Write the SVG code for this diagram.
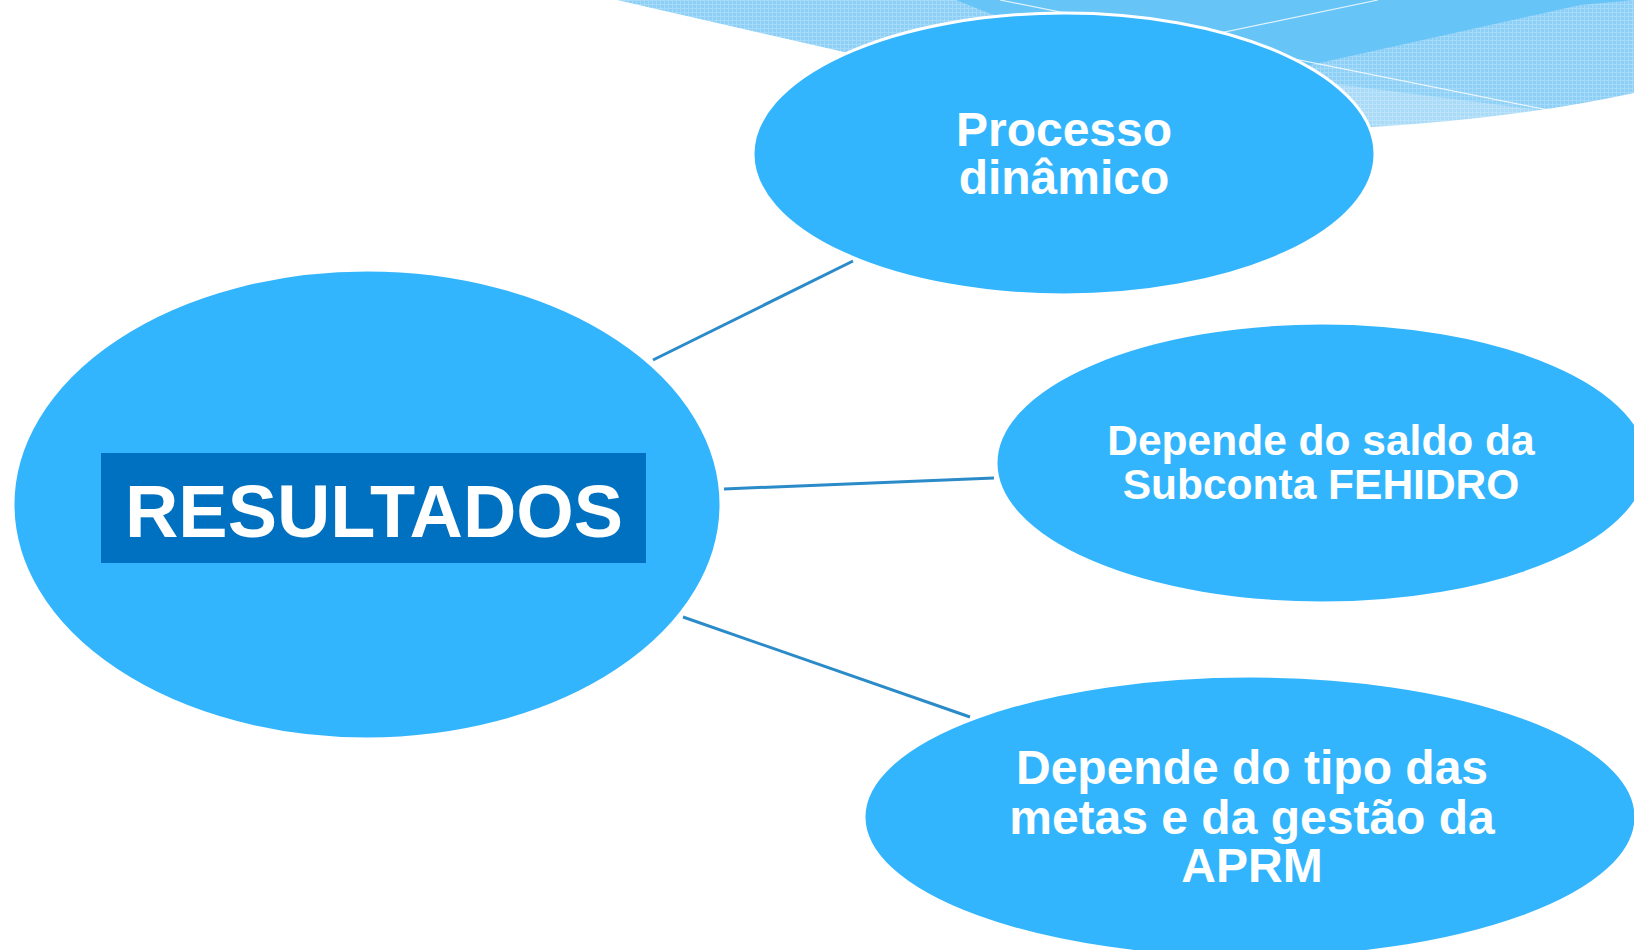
<svg xmlns="http://www.w3.org/2000/svg" width="1634" height="950" viewBox="0 0 1634 950">
  <style>
    .node { fill: #33b5fe; stroke: #ffffff; stroke-width: 3; }
    .lbl { font-family: "Liberation Sans", Arial, sans-serif; font-weight: bold; fill: #ffffff; text-anchor: middle; }
    .conn { stroke: #2b8bc9; stroke-width: 3; fill: none; }
  </style>
  <defs>
    <pattern id="grid" width="4" height="4" patternUnits="userSpaceOnUse">
      <rect width="4" height="4" fill="#8dcff7"/>
      <rect width="1" height="4" fill="#a6daf9"/>
      <rect width="4" height="1" fill="#a6daf9"/>
    </pattern>
  </defs>
  <rect width="1634" height="950" fill="#ffffff"/>
  <g id="background">
    <path d="M617,0 L844,52 Q1150,135 1373,127 Q1520,118 1634,93 L1634,0 Z" fill="url(#grid)"/>
    <path d="M956,0 Q1120,70 1310,65 L1580,5 L1634,0 Z" fill="#66c4f6"/>
    <path d="M1320,82 L1563,113 Q1470,123 1373,127 Z" fill="#ffffff" opacity="0.25"/>
    <line x1="1000" y1="0" x2="1563" y2="113" stroke="#ffffff" stroke-width="1.2" opacity="0.8"/>
    <line x1="1100" y1="58" x2="1378" y2="0" stroke="#ffffff" stroke-width="1.2" opacity="0.8"/>
  </g>
  <g id="connectors">
    <line class="conn" x1="653" y1="360" x2="853" y2="261"/>
    <line class="conn" x1="724" y1="489" x2="994" y2="478"/>
    <line class="conn" x1="683" y1="617" x2="970" y2="717"/>
  </g>
  <g id="node-resultados">
    <ellipse class="node" cx="367" cy="504.5" rx="354" ry="234.5"/>
    <rect x="101" y="453" width="545" height="110" fill="#0070c0"/>
    <text class="lbl" x="374" y="537" font-size="75" textLength="498" lengthAdjust="spacingAndGlyphs">RESULTADOS</text>
  </g>
  <g id="node-processo">
    <ellipse class="node" cx="1064" cy="154" rx="311" ry="141"/>
    <text class="lbl" x="1064" y="146" font-size="48">Processo</text>
    <text class="lbl" x="1064" y="194" font-size="48">dinâmico</text>
  </g>
  <g id="node-saldo">
    <ellipse class="node" cx="1322" cy="463" rx="326" ry="140"/>
    <text class="lbl" x="1321" y="455" font-size="42.5">Depende do saldo da</text>
    <text class="lbl" x="1321" y="499" font-size="42.5">Subconta FEHIDRO</text>
  </g>
  <g id="node-metas">
    <ellipse class="node" cx="1250" cy="817" rx="386" ry="141"/>
    <text class="lbl" x="1252" y="784" font-size="48">Depende do tipo das</text>
    <text class="lbl" x="1252" y="834" font-size="48">metas e da gestão da</text>
    <text class="lbl" x="1252" y="882" font-size="48">APRM</text>
  </g>
</svg>
